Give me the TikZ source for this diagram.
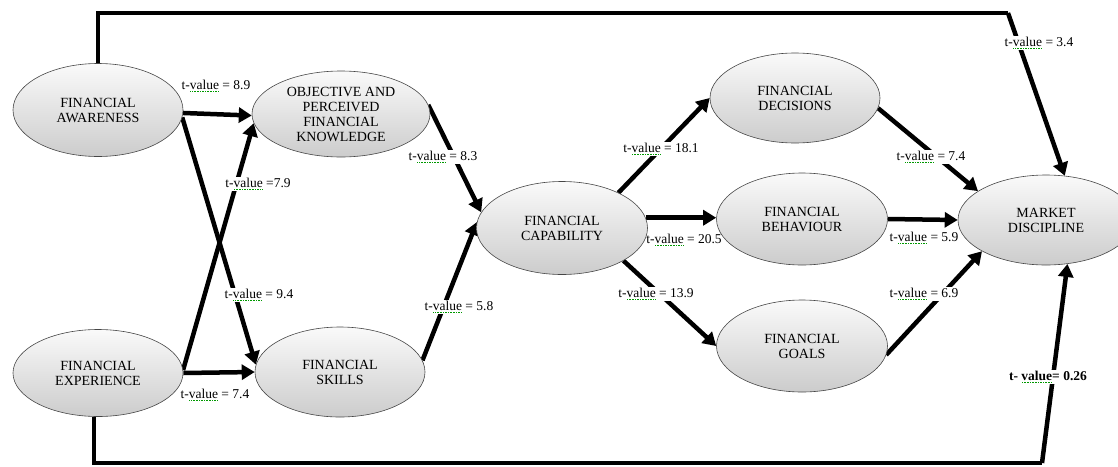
\documentclass[tikz,border=0pt]{standalone}
\usepackage{fontspec}
\setmainfont{Liberation Serif}
\usetikzlibrary{shapes.geometric,arrows.meta}
\pgfdeclarelayer{bg}
\pgfsetlayers{bg,main}
\newcommand\wv[1]{\setbox0\hbox{#1}\rlap{\color{green!60!black}\raisebox{-2.6pt}{\hbox to \wd0{\xleaders\hbox to 1.6pt{\hss\rule{0.8pt}{0.8pt}\hss}\hfill}}}\box0\relax}
\tikzset{
  ell/.style={ellipse, draw=gray!55!black, line width=0.6pt, top color=gray!4, bottom color=gray!40,
    inner sep=0pt, align=center, font=\fontsize{14}{15}\selectfont},
  conn/.style={line width=4.5pt, -{Triangle[length=13pt,width=15pt]}},
  bar/.style={line width=4.5pt},
  lab/.style={fill=white, inner sep=1pt, font=\fontsize{13.5}{15}\selectfont}
}
\begin{document}
\begin{tikzpicture}[x=1pt,y=-1pt]
\useasboundingbox (0,0) rectangle (1118,466);
% nodes
\node[ell, minimum width=170pt, minimum height=93pt] (fa) at (98,110) {FINANCIAL\\AWARENESS};
\node[ell, minimum width=178pt, minimum height=86pt] (opk) at (341,114) {OBJECTIVE AND\\PERCEIVED\\FINANCIAL\\KNOWLEDGE};
\node[ell, minimum width=170pt, minimum height=87pt] (fe) at (98,373) {FINANCIAL\\EXPERIENCE};
\node[ell, minimum width=170pt, minimum height=90pt] (fs) at (340,372) {FINANCIAL\\SKILLS};
\node[ell, minimum width=171pt, minimum height=93pt] (fc) at (562,228) {FINANCIAL\\CAPABILITY};
\node[ell, minimum width=170pt, minimum height=90pt] (fd) at (795,98) {FINANCIAL\\DECISIONS};
\node[ell, minimum width=171pt, minimum height=92pt] (fb) at (802,219) {FINANCIAL\\BEHAVIOUR};
\node[ell, minimum width=171pt, minimum height=92pt] (fg) at (802,346) {FINANCIAL\\GOALS};
\node[ell, minimum width=176pt, minimum height=90pt] (md) at (1046,220) {MARKET\\DISCIPLINE};
\coordinate (tr) at (1008,13);
\coordinate (br) at (1042,463);
\begin{pgfonlayer}{bg}
% long connectors
\draw[bar] (fa.north) |- (tr);
\draw[conn] (tr) -- (md.67);
\draw[bar] (fe.265) |- (br);
\draw[conn] (br) -- (md.-64);
% left block
\draw[conn] (fa.-2) -- (opk.181);
\draw[conn] (fa.-5) -- (fs.175);
\draw[conn] (fe.2) -- (opk.186);
\draw[conn] (fe.east) -- (fs.180);
\draw[conn] (opk.6) -- (fc.169);
\draw[conn] (fs.8) -- (fc.176);
% middle
\draw[conn] (fc.32) -- (fd.west);
\draw[conn] (fc.7) -- (fc.7 -| fb.west);
\draw[conn] (fc.-28) -- (fg.west);
% right
\draw[conn] (fd.-7) -- (md.157);
\draw[conn] (fb.east) -- (md.west);
\draw[conn] (fg.-6) -- (md.206);
% labels
\node[lab] (l1) at (216,86) {t-\wv{value} = 8.9};
\node[lab] (l2) at (258,184) {t-\wv{value} =7.9};
\node[lab] (l3) at (259,295) {t-\wv{value} = 9.4};
\node[lab] (l4) at (215,395) {t-\wv{value} = 7.4};
\node[lab] (l5) at (443,157) {t-\wv{value} = 8.3};
\node[lab] (l6) at (459,307) {t-\wv{value} = 5.8};
\node[lab] (l7) at (661,149) {t-\wv{value} = 18.1};
\node[lab] (l8) at (684,240) {t-\wv{value} = 20.5};
\node[lab] (l9) at (656,294) {t-\wv{value} = 13.9};
\node[lab] (l10) at (931,157) {t-\wv{value} = 7.4};
\node[lab] (l11) at (924,238) {t-\wv{value} = 5.9};
\node[lab] (l12) at (924,294) {t-\wv{value} = 6.9};
\node[lab] (l13) at (1039,43) {t-\wv{value} = 3.4};
\node[lab, font=\fontsize{13.5}{15}\selectfont\bfseries] (l14) at (1048,377) {t- \wv{value}= 0.26};
\end{pgfonlayer}
\end{tikzpicture}
\end{document}
